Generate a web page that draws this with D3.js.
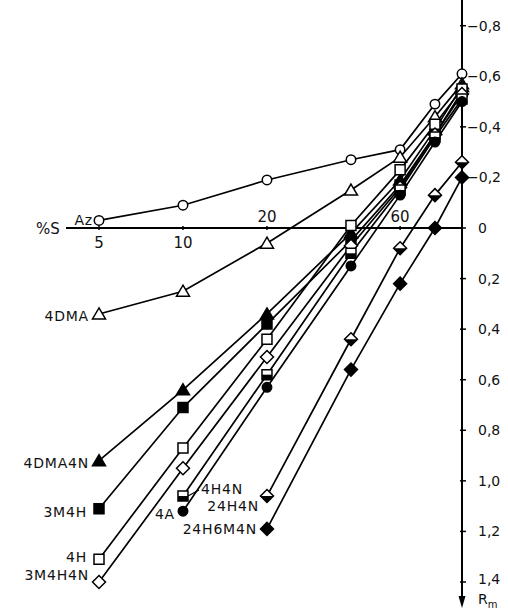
<!DOCTYPE html>
<html>
<head>
<meta charset="utf-8">
<script src="https://cdn.jsdelivr.net/npm/d3@7"></script>
<style>
  body { margin: 0; background: #fff; }
  text { font-family: "DejaVu Sans", sans-serif; fill: #111; }
</style>
</head>
<body>
<div id="chart"></div>
<script>
/* data: Rm against % solvent (S) */
var percents = [5, 10, 20, 40, 60, 80, 100];

var seriesNames = ["Az", "4DMA", "4DMA4N", "3M4H", "4H", "3M4H4N", "4H4N", "4A", "24H4N", "24H6M4N"];

var rmAz      = [-0.03, -0.09, -0.19, -0.27, -0.31, -0.49, -0.61];
var rm4DMA    = [0.34, 0.25, 0.06, -0.15, -0.28, -0.44, -0.57];
var rm4DMA4N  = [0.92, 0.64, 0.34, 0.02, -0.19, -0.39, -0.56];
var rm3M4H    = [1.11, 0.71, 0.38, 0.05, -0.17, -0.37, -0.54];
var rm4H      = [1.31, 0.87, 0.44, -0.01, -0.23, -0.41, -0.55];
var rm3M4H4N  = [1.40, 0.95, 0.51, 0.07, -0.16, -0.37, -0.53];
var rm4H4N    = [null, 1.06, 0.58, 0.10, -0.15, -0.36, -0.51];
var rm4A      = [null, 1.12, 0.63, 0.15, -0.13, -0.34, -0.50];
var rm24H4N   = [null, null, 1.06, 0.44, 0.08, -0.13, -0.26];
var rm24H6M4N = [null, null, 1.19, 0.56, 0.22, 0.00, -0.20];

var rmValues = [rmAz, rm4DMA, rm4DMA4N, rm3M4H, rm4H, rm3M4H4N, rm4H4N, rm4A, rm24H4N, rm24H6M4N];

var xTickValues = [5, 10, 20, 40, 60, 80];
var xTickLabels = ["5", "10", "20", "", "60", ""];
var yTickValues = [-0.8, -0.6, -0.4, -0.2, 0, 0.2, 0.4, 0.6, 0.8, 1.0, 1.2, 1.4];

/* marker and label style per series */
var markers = ["circle", "triangle", "triangleFill", "squareFill", "square", "diamond", "squareHalf", "circleFill", "diamondHalf", "diamondFill"];
var labelPos = [
	{side: "left", dx: -6, dy: 0, idx: 0},
	{side: "left", dx: -10, dy: 2, idx: 0},
	{side: "left", dx: -10, dy: 2, idx: 0},
	{side: "left", dx: -12, dy: 3, idx: 0},
	{side: "left", dx: -12, dy: -2, idx: 0},
	{side: "left", dx: -10, dy: -7, idx: 0},
	{side: "right", dx: 18, dy: -7, idx: 1},
	{side: "left", dx: -8, dy: 3, idx: 1},
	{side: "left", dx: -8, dy: 10, idx: 2},
	{side: "left", dx: -10, dy: 0, idx: 2}
];

var width = 508,
    height = 614;

var svg = d3.select("#chart")
		    .append("svg")
		    .attr("width", width)
		    .attr("height", height);

var x = d3.scaleLog().domain([5, 100]).range([99, 462]);
var y = d3.scaleLinear().domain([0, 1.4]).range([228, 582]);

/* axes */
var axisX = x(100);

svg.append("line")
    .attr("x1", 66).attr("x2", axisX)
    .attr("y1", y(0)).attr("y2", y(0))
    .attr("stroke", "#000").attr("stroke-width", 2);

svg.append("line")
    .attr("x1", axisX).attr("x2", axisX)
    .attr("y1", 0).attr("y2", 600)
    .attr("stroke", "#000").attr("stroke-width", 2);

svg.append("path")
    .attr("d", "M" + (axisX - 3.5) + ",596L" + (axisX + 3.5) + ",596L" + axisX + ",608Z")
    .attr("fill", "#000");

svg.append("g")
    .selectAll("line")
    .data(xTickValues)
    .enter().append("line")
	    .attr("x1", function(d) { return x(d); })
	    .attr("x2", function(d) { return x(d); })
	    .attr("y1", y(0) - 2)
	    .attr("y2", y(0) + 2)
	    .attr("stroke", "#000")
	    .attr("stroke-width", 1.5);

svg.append("g")
    .selectAll("text")
    .data(xTickValues)
    .enter().append("text")
	    .attr("x", function(d) { return x(d); })
	    .attr("y", function(d, i) { return d < 20 ? y(0) + 20 : y(0) - 6; })
	    .attr("text-anchor", "middle")
	    .attr("font-size", 15)
	    .text(function(d, i) { return xTickLabels[i]; });

svg.append("text")
    .attr("x", 36)
    .attr("y", y(0) + 6)
    .attr("font-size", 15)
    .text("%S");

svg.append("g")
    .selectAll("line")
    .data(yTickValues)
    .enter().append("line")
	    .attr("x1", axisX - 2)
	    .attr("x2", axisX + 4)
	    .attr("y1", function(d) { return y(d); })
	    .attr("y2", function(d) { return y(d); })
	    .attr("stroke", "#000")
	    .attr("stroke-width", 1.5);

svg.append("g")
    .selectAll("text")
    .data(yTickValues)
    .enter().append("text")
	    .attr("x", function(d) { return d < 0 ? axisX + 5 : axisX + 16; })
	    .attr("y", function(d) { return d === 1.4 ? y(d) - 3 : y(d); })
	    .attr("dy", "0.36em")
	    .attr("font-size", 14)
	    .text(function(d) { return d === 0 ? "0" : d3.format(".1f")(d).replace(".", ","); });

var rm = svg.append("text")
    .attr("x", axisX + 16)
    .attr("y", 604)
    .attr("font-size", 14)
    .text("R");
rm.append("tspan")
    .attr("font-size", 10)
    .attr("dy", 4)
    .text("m");

/* series lines */
var line = d3.line()
	.defined(function(d) { return d.rm !== null; })
	.x(function(d) { return x(d.p); })
	.y(function(d) { return y(d.rm); });

var series = seriesNames.map(function(name, i) {
	return {
		name: name,
		marker: markers[i],
		label: labelPos[i],
		points: percents.map(function(p, j) { return {p: p, rm: rmValues[i][j]}; })
	};
});

svg.append("g")
    .selectAll("path")
    .data(series)
    .enter().append("path")
	    .attr("d", function(d) { return line(d.points); })
	    .attr("fill", "none")
	    .attr("stroke", "#000")
	    .attr("stroke-width", 1.7);

/* markers */
function shapePath(type) {
	var s = 5;
	if (type.indexOf("triangle") === 0) return "M0,-6L6.5,5L-6.5,5Z";
	if (type.indexOf("square") === 0) return "M-" + s + ",-" + s + "H" + s + "V" + s + "H-" + s + "Z";
	if (type.indexOf("diamond") === 0) return "M0,-6.5L6.5,0L0,6.5L-6.5,0Z";
	return d3.symbol().type(d3.symbolCircle).size(70)();
}

function halfPath(type) {
	if (type === "squareHalf") return "M-5,0H5V5H-5Z";
	return "M-6.5,0L6.5,0L0,6.5Z";
}

series.forEach(function(s) {
	var g = svg.append("g");
	var pts = s.points.filter(function(d) { return d.rm !== null; });
	var filled = /Fill$/.test(s.marker);
	var mk = g.selectAll("g")
	    .data(pts)
	    .enter().append("g")
		    .attr("transform", function(d) { return "translate(" + x(d.p) + "," + y(d.rm) + ")"; });
	mk.append("path")
	    .attr("d", shapePath(s.marker))
	    .attr("fill", filled ? "#000" : "#fff")
	    .attr("stroke", "#000")
	    .attr("stroke-width", 1.5);
	if (/Half$/.test(s.marker)) {
		mk.append("path")
		    .attr("d", halfPath(s.marker))
		    .attr("fill", "#000");
	}

	/* series label */
	var p0 = s.points[s.label.idx];
	g.append("text")
	    .attr("x", x(p0.p) + s.label.dx)
	    .attr("y", y(p0.rm) + s.label.dy)
	    .attr("dy", "0.36em")
	    .attr("text-anchor", s.label.side === "left" ? "end" : "start")
	    .attr("font-size", 14)
	    .attr("letter-spacing", 0.8)
	    .text(s.name);
	if (s.label.side === "right") {
		g.append("line")
		    .attr("x1", x(p0.p) + 5).attr("x2", x(p0.p) + 16)
		    .attr("y1", y(p0.rm)).attr("y2", y(p0.rm) - 6)
		    .attr("stroke", "#000")
		    .attr("stroke-width", 1.2);
	}
});
</script>
</body>
</html>
